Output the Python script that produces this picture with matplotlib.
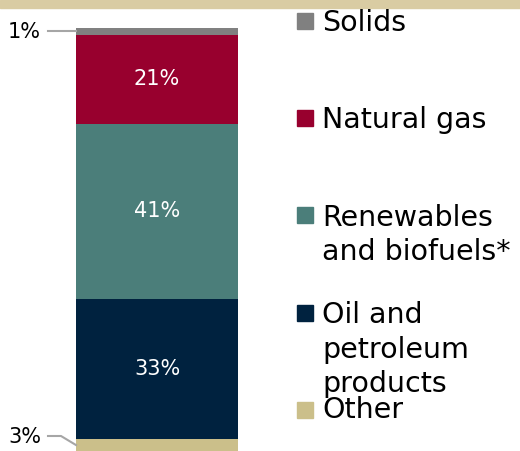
import matplotlib
matplotlib.use("Agg")
import matplotlib.pyplot as plt
from matplotlib.patches import Rectangle
from matplotlib.lines import Line2D

# Data (bottom to top)
categories = ["Other", "Oil and\npetroleum\nproducts", "Renewables\nand biofuels*", "Natural gas", "Solids"]
values = [2.8, 33, 41, 21, 1.6]
value_labels = ["3%", "33%", "41%", "21%", "1%"]
colors = ["#cbbf8a", "#00223f", "#4b7e7a", "#98002e", "#808080"]
inside = [False, True, True, True, False]

W, H = 520, 451
fig = plt.figure(figsize=(W / 100, H / 100), dpi=100)

# top decorative band
fig.patches.append(Rectangle((0, 1 - 8 / H), 1, 8 / H, transform=fig.transFigure,
                             color="#d9cca3", zorder=0))

ax = fig.add_axes([76 / W, 0, (238 - 76) / W, (451 - 28) / H])
total = sum(values)
ax.set_xlim(-0.5, 0.5)
ax.set_ylim(0, total)
ax.axis("off")

bottom = 0
mids = []
for v, c in zip(values, colors):
    ax.bar(0, v, width=1.0, bottom=bottom, color=c, linewidth=0)
    mids.append(bottom + v / 2)
    bottom += v

fig.canvas.draw()
for lab, mid, ins in zip(value_labels, mids, inside):
    if ins:
        ax.text(0, mid, lab, ha="center", va="center", color="white", fontsize=15)
    else:
        _, py = ax.transData.transform((-0.5, mid))
        ypix_mid = H - py
        ytxt = min(ypix_mid + 1, 437)
        fig.text(41 / W, 1 - ytxt / H, lab, ha="right", va="center", fontsize=15, color="black")
        if abs(ytxt - ypix_mid) < 2:
            xs, ys = [48, 76], [ypix_mid, ypix_mid]
        else:
            xs, ys = [48, 61, 76], [ytxt - 1, ytxt - 1, ypix_mid]
        fig.lines.append(Line2D([x / W for x in xs], [1 - y / H for y in ys],
                                transform=fig.transFigure, color="#a6a6a6", lw=1.5))

# Legend (manual), top to bottom
marker_centers = [410, 313, 215, 118, 21]
baselines = [418, 323, 226, 128, 31]
line_step = 34.5
for cat, c, mc, bl in zip(categories, colors, marker_centers, baselines):
    fig.patches.append(Rectangle((297 / W, 1 - (mc + 8) / H), 16 / W, 16 / H,
                                 transform=fig.transFigure, color=c))
    for i, line in enumerate(cat.split("\n")):
        fig.text(322 / W, 1 - (bl + i * line_step) / H, line, ha="left", va="baseline",
                 fontsize=20.5, color="black")

fig.savefig("out.png", dpi=100)
